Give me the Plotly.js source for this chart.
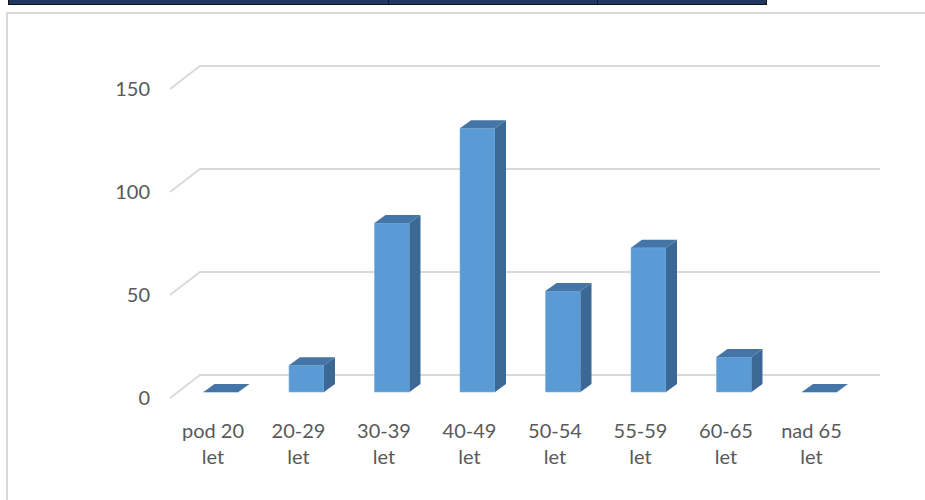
<!DOCTYPE html>
<html>
<head>
<meta charset="utf-8">
<script src="https://cdn.plot.ly/plotly-3.0.1.min.js"></script>
<style>
  html, body { margin: 0; padding: 0; background: #ffffff; width: 925px; height: 500px; overflow: hidden; }
  #strip { position: absolute; left: 8px; top: -2px; width: 757px; height: 5px; background: #1f3864; border: 1.5px solid #111111; }
  #strip .sep { position: absolute; top: 0; width: 1px; height: 5px; background: #0d1833; }
  #frame { position: absolute; left: 6px; top: 12px; width: 940px; height: 520px; border-left: 2px solid #d9d9d9; border-top: 2px solid #d9d9d9; }
  #chart { position: absolute; left: 0; top: 0; width: 925px; height: 500px; }
</style>
</head>
<body>
<div id="strip"><div class="sep" style="left:379px"></div><div class="sep" style="left:588px"></div></div>
<div id="frame"></div>
<div id="chart"></div>
<script>
// ---- data ----
const categories = ['pod 20 let', '20-29 let', '30-39 let', '40-49 let', '50-54 let', '55-59 let', '60-65 let', 'nad 65 let'];
const values = [0, 13, 82, 128, 49, 70, 17, 0];
const yTickValues = [0, 50, 100, 150];

// ---- geometry (pixels) ----
const PLOT_L = 160, PLOT_R = 890, PLOT_T = 50, PLOT_B = 410;
const CAT0_PX = 221;      // centre of first bar front face
const CAT_STEP = 85.5;    // px per category
const ZERO_PX = 392;      // baseline of bar fronts
const PX_PER_UNIT = 2.06; // px per value unit
const BAR_W_PX = 35, DEPTH_X_PX = 11, DEPTH_Y_PX = 8;
const FLOOR_FRONT_X = 170, WALL_X = 200, WALL_RIGHT_X = 880;
const FLOOR_FRONT_DY = 6, WALL_DY = 17; // offsets from bar plane (px, front down / wall up)

const xr = [(PLOT_L - CAT0_PX) / CAT_STEP, (PLOT_R - CAT0_PX) / CAT_STEP];
const yr = [(ZERO_PX - PLOT_B) / PX_PER_UNIT, (ZERO_PX - PLOT_T) / PX_PER_UNIT];
const w = BAR_W_PX / CAT_STEP, dx = DEPTH_X_PX / CAT_STEP, dy = DEPTH_Y_PX / PX_PER_UNIT;
const idx = categories.map((c, i) => i);

// top and side faces
const topX = [], topY = [], sideX = [], sideY = [];
values.forEach((v, i) => {
  const l = i - w / 2, r = i + w / 2;
  topX.push(l, r, r + dx, l + dx, l, null);
  topY.push(v, v, v + dy, v + dy, v, null);
  if (v > 0) {
    sideX.push(r, r, r + dx, r + dx, r, null);
    sideY.push(0, v, v + dy, dy, 0, null);
  }
});

const traces = [
  { type: 'bar', x: idx, y: values, width: w, marker: { color: '#5b9bd5', line: { color: '#7eb1e0', width: 0.6 } }, hoverinfo: 'skip' },
  { type: 'scatter', mode: 'lines', x: sideX, y: sideY, fill: 'toself', fillcolor: '#3b6894', line: { width: 0, color: '#3b6894' }, hoverinfo: 'skip' },
  { type: 'scatter', mode: 'lines', x: topX, y: topY, fill: 'toself', fillcolor: '#4574a6', line: { width: 0, color: '#4574a6' }, hoverinfo: 'skip' }
];

// back wall gridlines with floor diagonals
const shapes = [];
const xf = (FLOOR_FRONT_X - CAT0_PX) / CAT_STEP, xw = (WALL_X - CAT0_PX) / CAT_STEP, xe = (WALL_RIGHT_X - CAT0_PX) / CAT_STEP;
yTickValues.forEach(t => {
  const yf = t - FLOOR_FRONT_DY / PX_PER_UNIT, yw = t + WALL_DY / PX_PER_UNIT;
  shapes.push({ type: 'path', xref: 'x', yref: 'y', layer: 'below',
    path: `M${xf},${yf} L${xw},${yw} L${xe},${yw}`,
    line: { color: '#d9d9d9', width: 1.8 } });
});

const layout = {
  width: 925, height: 500,
  margin: { l: PLOT_L, r: 925 - PLOT_R, t: PLOT_T, b: 500 - PLOT_B, pad: 0 },
  paper_bgcolor: 'rgba(0,0,0,0)', plot_bgcolor: 'rgba(0,0,0,0)',
  showlegend: false,
  font: { family: 'Lato, "Open Sans", sans-serif', size: 20, color: '#595959' },
  xaxis: { range: xr, tickmode: 'array', tickvals: idx,
    ticktext: categories.map(c => c.replace(/ let$/, '<br>let')),
    showgrid: false, zeroline: false, showline: false, ticks: '', ticklabelshift: -8, ticklabelstandoff: 7,
    fixedrange: true },
  yaxis: { range: yr, tickmode: 'array', tickvals: yTickValues, ticktext: yTickValues.map(String),
    showgrid: false, zeroline: false, showline: false, ticks: '', ticklabelshift: 6, ticklabelstandoff: 9,
    fixedrange: true },
  shapes: shapes,
  bargap: 0
};

Plotly.newPlot('chart', traces, layout, { displayModeBar: false, staticPlot: true });
</script>
</body>
</html>
